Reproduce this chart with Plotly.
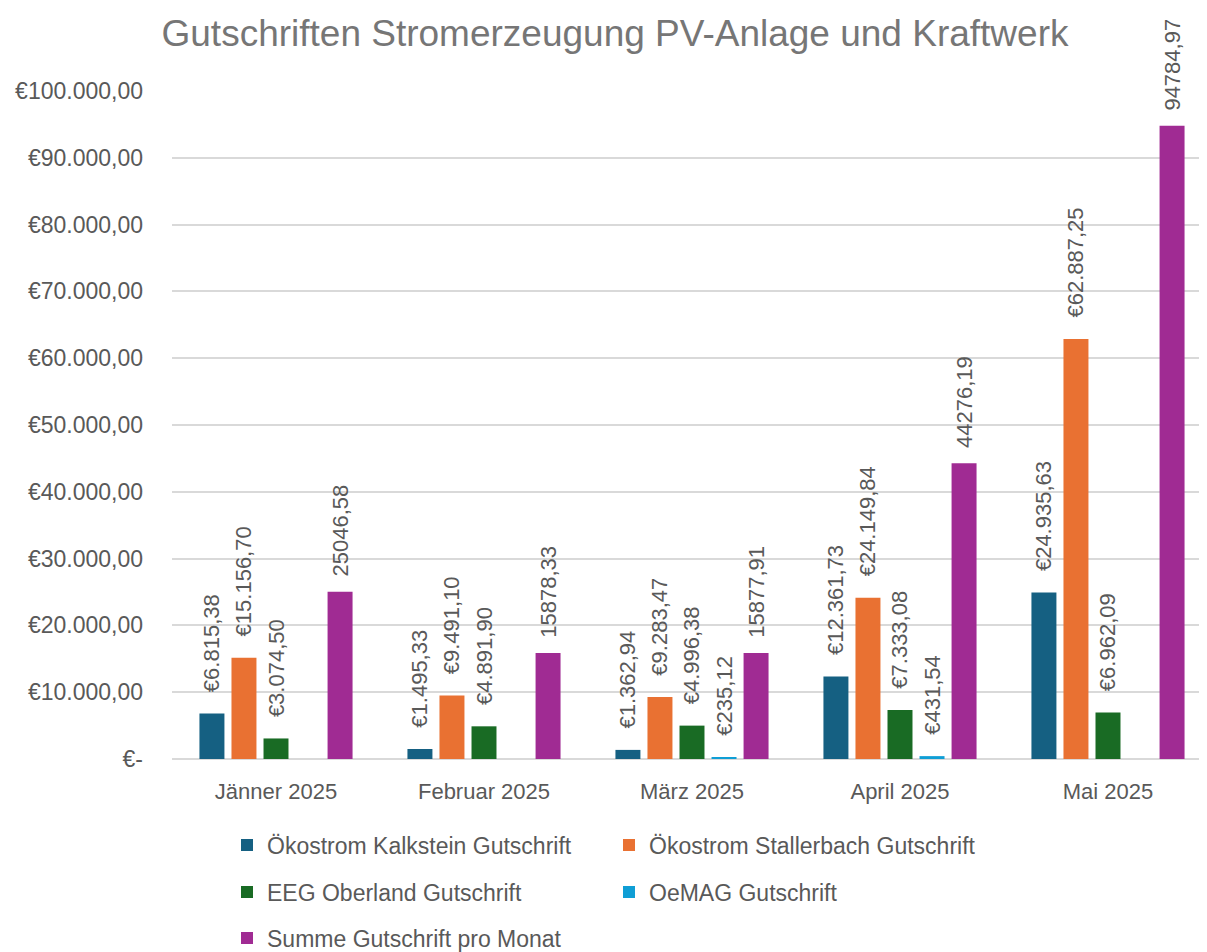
import plotly.graph_objects as go

months = ["Jänner 2025", "Februar 2025", "März 2025", "April 2025", "Mai 2025"]
kalkstein = [6815.38, 1495.33, 1362.94, 12361.73, 24935.63]
stallerbach = [15156.70, 9491.10, 9283.47, 24149.84, 62887.25]
eeg = [3074.50, 4891.90, 4996.38, 7333.08, 6962.09]
oemag = [None, None, 235.12, 431.54, None]
summe = [25046.58, 15878.33, 15877.91, 44276.19, 94784.97]

series_names = ["Ökostrom Kalkstein Gutschrift", "Ökostrom Stallerbach Gutschrift",
                "EEG Oberland Gutschrift", "OeMAG Gutschrift", "Summe Gutschrift pro Monat"]
colors = ["#156082", "#E97132", "#196B24", "#0F9ED5", "#A02B93"]

y_tickvals = [0, 10000, 20000, 30000, 40000, 50000, 60000, 70000, 80000, 90000, 100000]
y_ticktext = ["€-", "€10.000,00", "€20.000,00", "€30.000,00", "€40.000,00", "€50.000,00",
              "€60.000,00", "€70.000,00", "€80.000,00", "€90.000,00", "€100.000,00"]

FONT = "Liberation Sans, Arial, sans-serif"
GREY = "#595959"
OFF = 8  # page body margin
W, H = 1207 - OFF, 952 - OFF

fig = go.Figure()
data = [kalkstein, stallerbach, eeg, oemag, summe]
legend_ids = ["legend", "legend2", "legend3", "legend4", "legend5"]
for i, (name, vals, col) in enumerate(zip(series_names, data, colors)):
    tmpl = "\u00a0\u00a0%{y:.2f}" if i == 4 else "\u00a0\u00a0\u00a0€%{y:,.2f}"
    fig.add_trace(go.Bar(
        x=months, y=vals, name=name,
        marker=dict(color=col, line=dict(width=0)),
        texttemplate=tmpl, textposition="outside", textangle=-90,
        textfont=dict(family=FONT, size=22, color=GREY),
        constraintext="none", cliponaxis=False,
        legend=legend_ids[i],
    ))

# legend positions (reference px)
leg_pos = [(227, 845), (609, 845), (227, 892), (609, 892), (227, 938)]
legend_layouts = {}
for lid, (px, py) in zip(legend_ids, leg_pos):
    legend_layouts[lid] = dict(
        x=(px - OFF) / W, y=1 - (py - OFF) / H, xref="container", yref="container",
        xanchor="left", yanchor="middle", orientation="h",
        font=dict(family=FONT, size=23, color=GREY),
        bgcolor="rgba(0,0,0,0)", itemwidth=30,
    )

fig.update_layout(
    width=W, height=H,
    margin=dict(l=172 - OFF, r=0, t=91 - OFF, b=H - (759 - OFF)),
    paper_bgcolor="white", plot_bgcolor="white",
    separators=",.",
    barmode="group", bargap=0.23, bargroupgap=0.22,
    showlegend=True,
    title=dict(text="Gutschriften Stromerzeugung PV-Anlage und Kraftwerk",
               x=(615 - OFF) / W, y=1 - (33 - OFF) / H, xref="container", yref="container",
               xanchor="center", yanchor="middle",
               font=dict(family=FONT, size=37, color="#767676")),
    xaxis=dict(range=[-0.5, 4.476], showgrid=False, showline=False, ticks="",
               tickfont=dict(family=FONT, size=22, color=GREY), ticklabelstandoff=17),
    yaxis=dict(range=[0, 100000], tickvals=y_tickvals, ticktext=y_ticktext,
               showgrid=True, gridcolor="#D9D9D9", gridwidth=1.5, zeroline=True,
               zerolinecolor="#D9D9D9", zerolinewidth=1.5, showline=False, ticks="",
               tickfont=dict(family=FONT, size=23, color=GREY), ticklabelstandoff=28),
    **legend_layouts,
)

fig.write_html("out.html")
